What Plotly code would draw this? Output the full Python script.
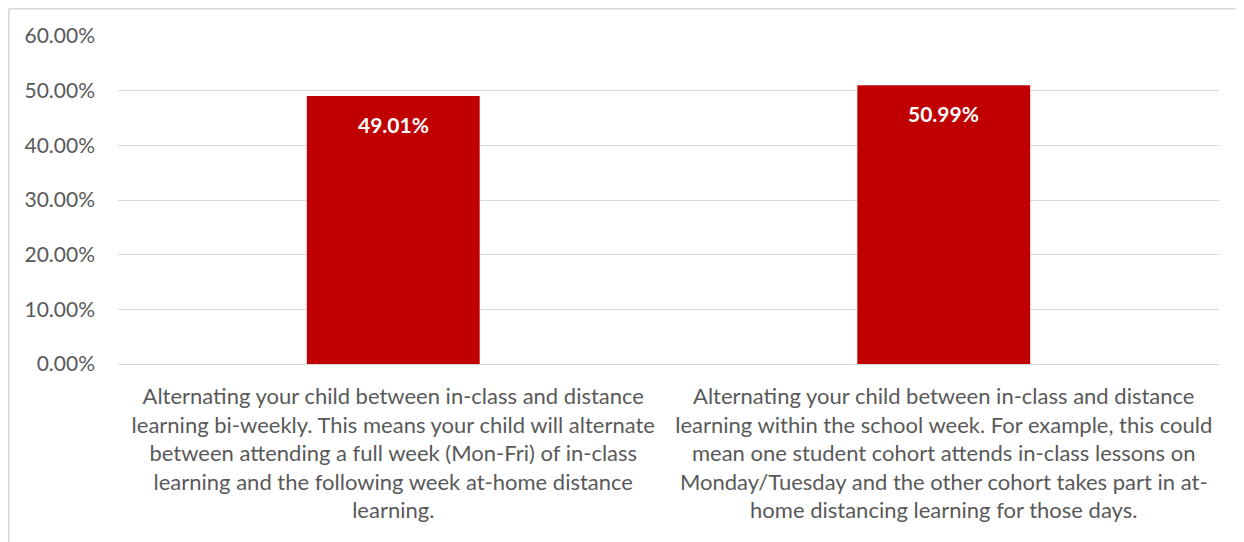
import plotly.graph_objects as go

categories = [
    "Alternating your child between in-class and distance<br>learning bi-weekly. This means your child will alternate<br>between attending a full week (Mon-Fri) of in-class<br>learning and the following week at-home distance<br>learning.",
    "Alternating your child between in-class and distance<br>learning within the school week. For example, this could<br>mean one student cohort attends in-class lessons on<br>Monday/Tuesday and the other cohort takes part in at-<br>home distancing learning for those days.",
]
values = [49.01, 50.99]
labels = ["49.01%", "50.99%"]

FONT = "Lato"
GREY = "#595959"
xpos = list(range(len(values)))

fig = go.Figure(
    go.Bar(
        x=xpos,
        y=values,
        marker=dict(color="#c00000", line=dict(width=0)),
        width=0.314,
        hoverinfo="skip",
    )
)

annotations = [
    dict(
        x=xv,
        y=yv,
        xref="x",
        yref="y",
        text=f"<b>{lab}</b>",
        showarrow=False,
        yanchor="middle",
        yshift=-28,
        font=dict(family=FONT, size=21, color="white"),
    )
    for xv, yv, lab in zip(xpos, values, labels)
]

bx0 = (8.8 - 118) / 1101
bx1 = (1400 - 118) / 1101
by0 = (364 - 700) / 328
by1 = (364 - 8.8) / 328
border = dict(color="#d9d9d9", width=1.5)

fig.update_layout(
    width=1244,
    height=542,
    margin=dict(l=110, r=33, t=28, b=186),
    paper_bgcolor="white",
    plot_bgcolor="white",
    showlegend=False,
    font=dict(family=FONT, color=GREY),
    xaxis=dict(
        tickmode="array",
        tickvals=xpos,
        ticktext=categories,
        tickangle=0,
        range=[-0.5, 1.5],
        showgrid=False,
        zeroline=False,
        showline=False,
        tickfont=dict(family=FONT, size=22, color=GREY),
        ticklabelstandoff=17,
        fixedrange=True,
    ),
    yaxis=dict(
        range=[0, 60],
        dtick=10,
        tick0=0,
        ticksuffix="%",
        tickformat=".2f",
        showgrid=True,
        gridcolor="#d9d9d9",
        gridwidth=1,
        zeroline=True,
        zerolinecolor="#d9d9d9",
        zerolinewidth=1,
        showline=False,
        tickfont=dict(family=FONT, size=21, color=GREY),
        ticklabelstandoff=22,
        fixedrange=True,
    ),
    annotations=annotations,
    shapes=[
        dict(type="line", xref="paper", yref="paper",
             x0=bx0, x1=bx0, y0=by0, y1=by1, line=border, layer="below"),
        dict(type="line", xref="paper", yref="paper",
             x0=bx0, x1=bx1, y0=by1, y1=by1, line=border, layer="below"),
    ],
)

fig.write_html("out.html")
